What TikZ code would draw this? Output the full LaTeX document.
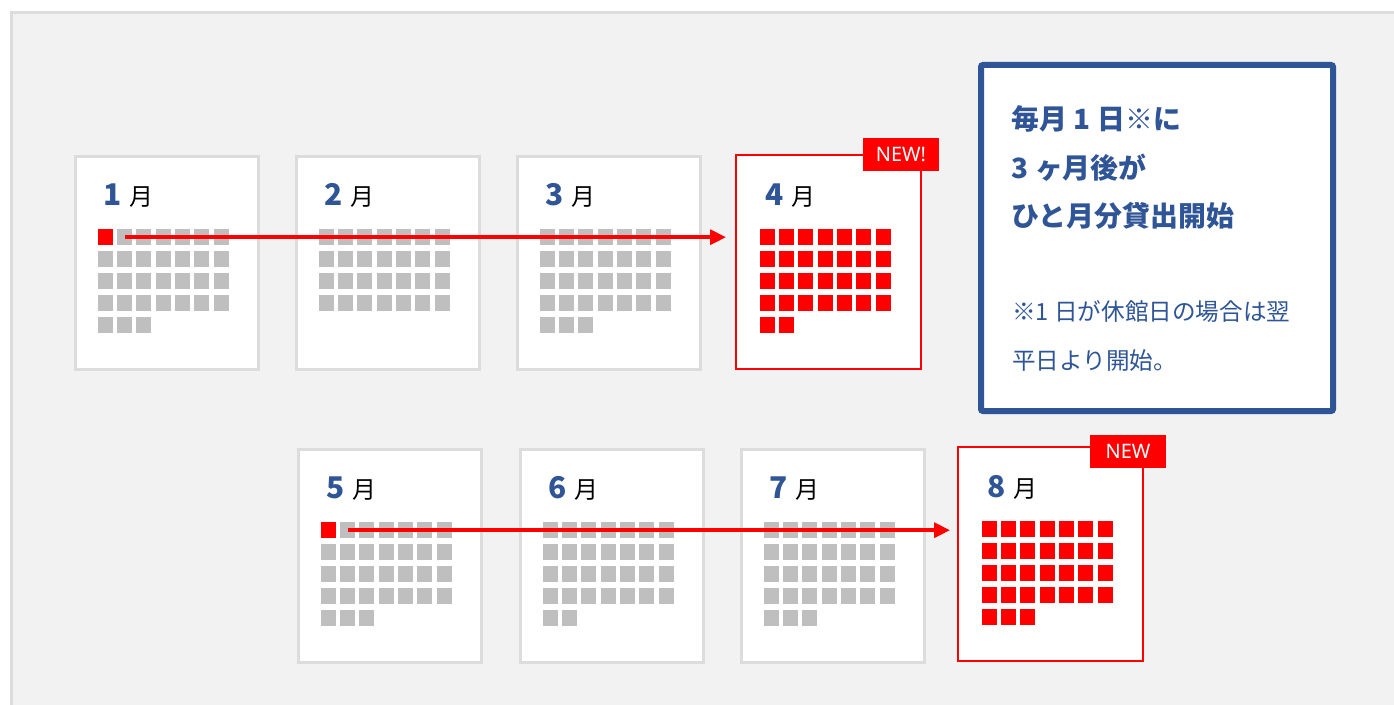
\documentclass[tikz,border=0pt]{standalone}
\usepackage{fontspec}
\usepackage{tikz}
\usetikzlibrary{arrows.meta,positioning}
\newfontfamily\jpfont{Noto Sans CJK JP}
\newfontfamily\tagsans{Noto Sans}
\definecolor{navy}{RGB}{47,85,151}
\definecolor{newred}{RGB}{255,0,0}
\definecolor{daygray}{RGB}{191,191,191}
\definecolor{boxline}{RGB}{220,220,220}
\definecolor{panelgray}{RGB}{242,242,242}

\begin{document}
\begin{tikzpicture}
[x=1bp,y=-1bp,
  month box/.style={rectangle,draw=boxline,line width=3bp,fill=white,inner sep=0pt,
    minimum width=183bp,minimum height=213bp,anchor=north west},
  new box/.style={month box,draw=newred,line width=2bp,minimum width=185bp,minimum height=214bp},
  day/.style={rectangle,fill=daygray,inner sep=0pt,minimum width=15bp,minimum height=16bp,anchor=north west},
  red day/.style={day,fill=newred},
  num/.style={inner sep=0pt,anchor=base west,text=navy,font=\jpfont\bfseries\fontsize{30}{30}\selectfont},
  tsuki/.style={inner sep=0pt,anchor=base west,font=\jpfont\fontsize{24}{24}\selectfont},
  new tag/.style={fill=newred,text=white,inner sep=0pt,minimum width=76bp,minimum height=33bp,
    font=\tagsans\fontsize{20}{20}\selectfont},
  flow/.style={draw=newred,line width=3.5bp,-{Triangle[length=16bp,width=15bp]}},
  info/.style={rectangle,draw=navy,line width=6bp,fill=white,rounded corners=2bp,inner sep=0pt,anchor=north west},
  head/.style={inner sep=0pt,anchor=west,text=navy,font=\jpfont\bfseries\fontsize{28}{28}\selectfont},
  note/.style={inner sep=0pt,anchor=west,text=navy,font=\jpfont\fontsize{23.7}{23.7}\selectfont}]
  \useasboundingbox (0,0) rectangle (1394,704);
  \fill[white] (0,0) rectangle (1394,704);
  % back panel, runs off the right and bottom edges
  \draw[fill=panelgray,draw=boxline,line width=3bp] (11.5,12.5) rectangle (1420,730);

  \foreach \m/\x/\y/\days/\kind in {1/72/153/31/1, 2/293/153/28/0, 3/514/153/31/0, 4/734/153/30/2,
      5/295/446/31/1, 6/517/446/30/0, 7/738/446/31/0, 8/956/445/31/2}{
    \ifnum\kind=2
      \node[new box] (m\m) at (\x+1,\y+1) {};
    \else
      \node[month box] (m\m) at (\x+1.5,\y+1.5) {};
    \fi
    \node[num] (m\m-num) at (\x+31.5,\y+52) {\m};
    \node[tsuki] (m\m-label) at (\x+57,\y+52) {月};
    \foreach \d in {1,...,\days}{
      \pgfmathtruncatemacro\col{mod(\d-1,7)}
      \pgfmathtruncatemacro\row{div(\d-1,7)}
      \pgfmathtruncatemacro\hot{(\kind==2)||((\kind==1)&&(\d==1))}
      \ifnum\hot=1
        \node[red day] (m\m-d\d) at (\x+25.5+19.33*\col,\y+76+22*\row) {};
      \else
        \node[day] (m\m-d\d) at (\x+25.5+19.33*\col,\y+76+22*\row) {};
      \fi
    }
  }

  \draw[flow,shorten >=9bp] (m1-d2.center) -- (m1-d2.center -| m4.west);
  \draw[flow,shorten >=7bp] (m5-d2.center) -- (m5-d2.center -| m8.west);

  \node[new tag] (tag4) at (901,154.3) {NEW!};
  \node[new tag] (tag8) at (1128,451.3) {NEW};

  \node[info,minimum width=352bp,minimum height=346bp] (info) at (978,62) {};
  \node[head] (head1) at (1011.5,119.2) {毎月 1 日※に};
  \node[head] (head2) at (1011.5,168) {3 ヶ月後が};
  \node[head] (head3) at (1011.5,215.5) {ひと月分貸出開始};
  \node[note] (note1) at (1012,312) {※1 日が休館日の場合は翌};
  \node[note] (note2) at (1012,361) {平日より開始。};
\end{tikzpicture}
\end{document}
